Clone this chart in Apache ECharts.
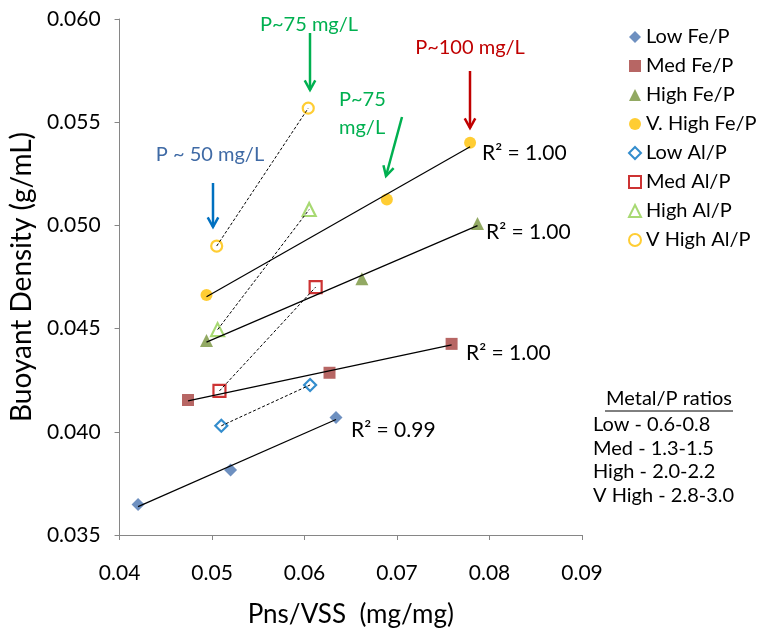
<!DOCTYPE html>
<html><head><meta charset="utf-8">
<script src="https://cdn.jsdelivr.net/npm/echarts@6/dist/echarts.min.js"></script>
<style>html,body{margin:0;padding:0;background:#fff}#c{width:757px;height:633px}</style>
</head><body><div id="c"></div>
<script>
// ---- data ----
const seriesNames = ['Low Fe/P','Med Fe/P','High Fe/P','V. High Fe/P','Low Al/P','Med Al/P','High Al/P','V High Al/P'];
const lowFeX  = [0.0420, 0.0520, 0.0634];
const lowFeY  = [0.03648, 0.03815, 0.04069];
const medFeX  = [0.0474, 0.0627, 0.0759];
const medFeY  = [0.04154, 0.04286, 0.04426];
const highFeX = [0.0494, 0.0662, 0.0787];
const highFeY = [0.04442, 0.04741, 0.05009];
const vhFeX   = [0.0494, 0.0689, 0.0779];
const vhFeY   = [0.04663, 0.05125, 0.05400];
const lowAlX  = [0.0510, 0.0606];
const lowAlY  = [0.04029, 0.04227];
const medAlX  = [0.0508, 0.0612];
const medAlY  = [0.04198, 0.04701];
const highAlX = [0.0506, 0.0605];
const highAlY = [0.04495, 0.05077];
const vhAlX   = [0.0505, 0.0604];
const vhAlY   = [0.04900, 0.05568];
// R² of the Fe trendlines: Low, Med, High, V. High
const r2Labels = ['R² = 0.99','R² = 1.00','R² = 1.00','R² = 1.00'];
const xTicks = [0.04, 0.05, 0.06, 0.07, 0.08, 0.09];
const yTicks = [0.035, 0.040, 0.045, 0.050, 0.055, 0.060];
const ratioLines = ['Low - 0.6-0.8','Med - 1.3-1.5','High - 2.0-2.2','V High - 2.8-3.0'];

const FONT = 'Lato, "Open Sans", sans-serif';
const zip = (xs, ys) => xs.map((x, i) => [x, ys[i]]);
function regLine(xs, ys) {
  const n = xs.length;
  const mx = xs.reduce((a,b)=>a+b,0)/n, my = ys.reduce((a,b)=>a+b,0)/n;
  let sxy = 0, sxx = 0;
  for (let i = 0; i < n; i++) { sxy += (xs[i]-mx)*(ys[i]-my); sxx += (xs[i]-mx)**2; }
  const b = sxy / sxx, a = my - b*mx;
  const x0 = Math.min(...xs), x1 = Math.max(...xs);
  return [[x0, a + b*x0], [x1, a + b*x1]];
}

const styles = [
  {sym:'diamond', size:13, fill:'#4a74b0', stroke:null},
  {sym:'rect', size:12, fill:'#a5403d', stroke:null},
  {sym:'triangle', size:13, fill:'#77933c', stroke:null},
  {sym:'circle', size:12, fill:'#ffc000', stroke:null},
  {sym:'diamond', size:12, fill:'#ffffff', stroke:'#0070c0'},
  {sym:'rect', size:12, fill:'#ffffff', stroke:'#c00000'},
  {sym:'triangle', size:13, fill:'#ffffff', stroke:'#92d050'},
  {sym:'circle', size:11, fill:'#ffffff', stroke:'#ffc000'}
];
const xsAll = [lowFeX, medFeX, highFeX, vhFeX, lowAlX, medAlX, highAlX, vhAlX];
const ysAll = [lowFeY, medFeY, highFeY, vhFeY, lowAlY, medAlY, highAlY, vhAlY];

const series = [];
seriesNames.forEach((name, i) => {
  const s = styles[i];
  series.push({
    name, type:'scatter', symbol:s.sym, symbolSize:s.size, z:2,
    data: zip(xsAll[i], ysAll[i]),
    itemStyle: s.stroke ? {color:s.fill, borderColor:s.stroke, borderWidth:2.2} : {color:s.fill},
    emphasis:{disabled:true}
  });
});
for (let i = 0; i < 4; i++) {
  series.push({type:'line', data: regLine(xsAll[i], ysAll[i]), showSymbol:false, symbol:'none', z:5,
    lineStyle:{color:'#000', width:1.2}, silent:true});
}
for (let i = 4; i < 8; i++) {
  series.push({type:'line', data: zip(xsAll[i], ysAll[i]), showSymbol:false, symbol:'none', z:5,
    lineStyle:{color:'#000', width:1, type:[3,2]}, silent:true});
}

function arrow(x1, y1, x2, y2, color) {
  const ang = Math.atan2(y2-y1, x2-x1), L = 11, spread = 0.5;
  const p1 = [x2 - L*Math.cos(ang-spread), y2 - L*Math.sin(ang-spread)];
  const p2 = [x2 - L*Math.cos(ang+spread), y2 - L*Math.sin(ang+spread)];
  return [
    {type:'line', shape:{x1,y1,x2,y2}, style:{stroke:color, lineWidth:2.5}},
    {type:'polyline', shape:{points:[p1,[x2,y2],p2]}, style:{stroke:color, lineWidth:2.5, fill:null}}
  ];
}
function txt(text, x, y, color, size, align) {
  return {type:'text', style:{text, x, y, fill:color, font:`${size}px ${FONT}`, align:align||'left', verticalAlign:'middle'}};
}

const graphics = [
  txt('P~75 mg/L', 309, 25, '#00b050', 20, 'center'),
  ...arrow(310, 33, 310, 90, '#00b050'),
  txt('P~100 mg/L', 470, 48, '#c00000', 20, 'center'),
  ...arrow(470, 71, 470, 128, '#c00000'),
  txt('P~75', 339, 100, '#00b050', 20),
  txt('mg/L', 339, 128, '#00b050', 20),
  ...arrow(402, 117, 386, 176, '#00b050'),
  txt('P ~ 50 mg/L', 210, 155, '#3f6aa5', 20, 'center'),
  ...arrow(213, 183, 213, 227, '#0070c0'),
  txt(r2Labels[3], 482, 153, '#000', 21),
  txt(r2Labels[2], 486, 232, '#000', 21),
  txt(r2Labels[1], 466, 353, '#000', 21),
  txt(r2Labels[0], 351, 430, '#000', 21),
  txt('Metal/P ratios', 669, 399, '#000', 20, 'center'),
  {type:'line', shape:{x1:605, y1:411, x2:733, y2:411}, style:{stroke:'#000', lineWidth:1}},
  ...ratioLines.map((t, i) => txt(t, 593, 425 + i*23.5, '#000', 20))
];

const chart = echarts.init(document.getElementById('c'), null, {renderer:'canvas'});
chart.setOption({
  animation:false,
  backgroundColor:'#fff',
  grid:{left:118, top:19, right:175, bottom:95, containLabel:false},
  xAxis:{type:'value', min:xTicks[0], max:xTicks[xTicks.length-1], interval:0.01,
    name:'Pns/VSS  (mg/mg)', nameLocation:'middle', nameGap:67,
    nameTextStyle:{fontFamily:FONT, fontSize:26, color:'#000'},
    axisLine:{show:true, lineStyle:{color:'#868686', width:1}},
    axisTick:{show:true, inside:false, length:5, lineStyle:{color:'#868686'}},
    splitLine:{show:false},
    axisLabel:{margin:28, fontFamily:FONT, fontSize:21, color:'#000', formatter:v=>v.toFixed(2)}},
  yAxis:{type:'value', min:yTicks[0], max:yTicks[yTicks.length-1], interval:0.005,
    name:'Buoyant Density (g/mL)', nameLocation:'middle', nameGap:80, nameRotate:90,
    nameTextStyle:{fontFamily:FONT, fontSize:28, color:'#000'},
    axisLine:{show:true, lineStyle:{color:'#868686', width:1}},
    axisTick:{show:true, inside:false, length:5, lineStyle:{color:'#868686'}},
    splitLine:{show:false},
    axisLabel:{margin:19, fontFamily:FONT, fontSize:21, color:'#000', formatter:v=>v.toFixed(3)}},
  legend:{data:seriesNames, orient:'vertical', left:628, top:27, padding:0, itemWidth:12, itemHeight:12, itemGap:9,
    textStyle:{fontFamily:FONT, fontSize:20, color:'#000'}, selectedMode:false},
  series,
  graphic: graphics
});
</script></body></html>
